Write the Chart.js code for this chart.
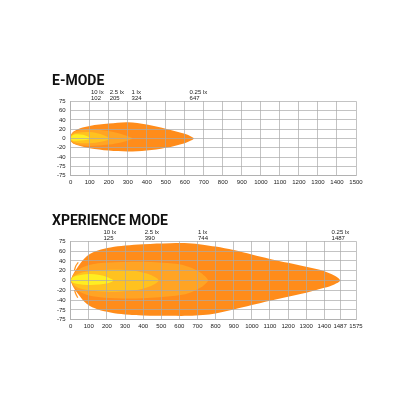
<!DOCTYPE html>
<html>
<head>
<meta charset="utf-8">
<script src="https://cdn.jsdelivr.net/npm/chart.js@4/dist/chart.umd.min.js"></script>
<style>
  html, body { margin: 0; padding: 0; background: #fff; }
  body { width: 416px; height: 416px; position: relative; overflow: hidden; }
  .box { position: absolute; left: 52px; width: 320px; }
  #boxE { top: 66px; height: 125px; }
  #boxX { top: 206px; height: 129px; }
</style>
</head>
<body>
<div class="box" id="boxE"><canvas id="chartE"></canvas></div>
<div class="box" id="boxX"><canvas id="chartX"></canvas></div>
<script>
// y tick labels, top to bottom, as printed on the original
const yTickLabels = ['75', '60', '40', '20', '0', '-20', '-40', '-75', '-75'];
const yTicks = [80, 60, 40, 20, 0, -20, -40, -60, -80];

// E-MODE
const eLux = ['10 lx', '2.5 lx', '1 lx', '0.25 lx'];
const eReach = [102, 205, 324, 647];
const eLabelAt = [107, 205, 320, 625];
const eBand10 = [[0,0],[4,5],[25,9],[65,8],[95,3],[104,0],[95,-2],[65,-4],[25,-5],[4,-3],[0,0]];
const eBand25 = [[0,0],[4,7],[30,12],[100,14],[160,9],[195,3],[205,0],[195,-3],[160,-7],[100,-10],[30,-9],[4,-5],[0,0]];
const eBand1 = [[0,0],[4,9],[30,16],[100,20],[200,16],[270,9],[310,3],[326,0],[310,-3],[270,-8],[200,-13],[100,-16],[30,-13],[4,-7],[0,0]];
const eBand025 = [[0,0],[3,9],[15,15],[50,22],[100,27],[200,32],[300,35],[400,30],[500,21],[600,10],[635,4],[647,0],
                  [635,-4],[600,-10],[500,-20],[400,-26],[300,-28],[200,-26],[100,-21],[50,-16],[15,-11],[3,-7],[0,0]];

// XPERIENCE MODE
const xLux = ['10 lx', '2.5 lx', '1 lx', '0.25 lx'];
const xReach = [125, 390, 744, 1487];
const xLabelAt = [181, 409, 703, 1440];
const xTicks = [0, 100, 200, 300, 400, 500, 600, 700, 800, 900, 1000, 1100, 1200, 1300, 1400, 1487, 1575];
const xBand10 = [[0,0],[10,6],[40,10],[100,13],[160,11],[200,7],[225,3],[235,0],[225,-3],[200,-6],[160,-8],[100,-9],[40,-7],[10,-4],[0,0]];
const xBand25 = [[0,0],[15,8],[50,15],[120,20],[250,22],[350,20],[420,14],[465,7],[485,0],[465,-7],[420,-14],[350,-20],[250,-23],[120,-21],[50,-16],[15,-8],[0,0]];
const xBand1 = [[0,0],[15,12],[50,24],[120,33],[250,37],[400,38],[580,34],[650,28],[710,18],[740,9],[758,0],
                [740,-8],[710,-16],[650,-26],[580,-31],[400,-36],[250,-36],[120,-32],[50,-23],[15,-11],[0,0]];
const xBand025 = [[0,0],[10,10],[40,28],[90,50],[150,61],[220,67],[300,71],[400,74],[550,76],[650,76],[730,73],[800,69],
                  [900,62],[1000,53],[1100,44],[1200,36],[1300,28],[1400,19],[1455,10],[1487,0],[1455,-8],[1400,-15],
                  [1300,-25],[1200,-33],[1100,-41],[1000,-50],[900,-59],[800,-67],[730,-70],[650,-72],[550,-72],
                  [400,-71],[300,-69],[220,-65],[150,-59],[90,-48],[40,-27],[10,-10],[0,0]];
const xArcTop = [[42,37],[29,30],[21,21]];
const xArcBottom = [[21,-19],[28,-27],[39,-35]];

const bandColors = ['#ffee22', '#ffc21f', '#ffa424', '#ff8c1a']; // 10, 2.5, 1, 0.25 lx
const gridColor = 'rgba(170,170,170,0.7)';
const tickFont = { family: 'Liberation Sans', size: 6 };

function toXY(pts) {
    return pts.map(p => ({ x: p[0], y: p[1] }));
}

function band(pts, color) {
    return {
        data: toXY(pts),
        backgroundColor: color,
        borderWidth: 0,
        pointRadius: 0,
        fill: 'shape',
        tension: 0.35
    };
}

function arc(pts) {
    return {
        data: toXY(pts),
        borderColor: '#ff9a2a',
        borderWidth: 1.3,
        pointRadius: 0,
        fill: false,
        tension: 0.4
    };
}

function makeChart(id, title, bands, extra, xMax, ticks, lux, reach, labelAt) {
    // innermost band first so it is drawn on top
    const datasets = extra.map(arc).concat(bands.map((b, i) => band(b, bandColors[i])));
    return new Chart(document.getElementById(id), {
        type: 'line',
        data: { datasets: datasets },
        options: {
            responsive: true,
            maintainAspectRatio: false,
            animation: false,
            layout: { padding: { left: 0, right: 16, top: 0, bottom: 2 } },
            plugins: {
                legend: { display: false },
                tooltip: { enabled: false },
                title: {
                    display: true,
                    text: title,
                    align: 'start',
                    color: '#111',
                    font: { family: 'Roboto', weight: 'bold', size: 14 },
                    padding: { top: 7, bottom: 0 }
                }
            },
            scales: {
                x: {
                    type: 'linear',
                    min: 0,
                    max: xMax,
                    afterBuildTicks: axis => {
                        axis.ticks = ticks.map(v => ({ value: v }));
                    },
                    grid: { color: gridColor, z: 1, drawTicks: false },
                    border: { color: gridColor, z: 1 },
                    ticks: {
                        autoSkip: false, maxRotation: 0, minRotation: 0, padding: 3, color: '#222', font: tickFont,
                        callback: v => String(v)
                    }
                },
                x2: {
                    type: 'linear',
                    position: 'top',
                    min: 0,
                    max: xMax,
                    afterBuildTicks: axis => {
                        axis.ticks = labelAt.map(v => ({ value: v }));
                    },
                    grid: { display: false, drawTicks: false },
                    border: { display: false },
                    ticks: {
                        autoSkip: false, maxRotation: 0, minRotation: 0, align: 'start', padding: 0,
                        color: '#222', font: { family: 'Liberation Sans', size: 6, lineHeight: 0.95 },
                        callback: (v, i) => [lux[i], String(reach[i])]
                    }
                },
                y: {
                    type: 'linear',
                    min: -80,
                    max: 80,
                    afterBuildTicks: axis => {
                        axis.ticks = yTicks.slice().reverse().map(v => ({ value: v }));
                    },
                    ticks: {
                        autoSkip: false, padding: 5, color: '#222', font: tickFont,
                        callback: (v, i, t) => yTickLabels[t.length - 1 - i]
                    },
                    grid: { color: gridColor, z: 1, drawTicks: false },
                    border: { color: gridColor, z: 1 }
                }
            }
        }
    });
}

const eTicks = [];
for (let v = 0; v <= 1500; v += 100) eTicks.push(v);

makeChart('chartE', 'E-MODE', [eBand10, eBand25, eBand1, eBand025], [], 1500, eTicks, eLux, eReach, eLabelAt);
makeChart('chartX', 'XPERIENCE MODE', [xBand10, xBand25, xBand1, xBand025], [xArcTop, xArcBottom], 1575, xTicks, xLux, xReach, xLabelAt);
</script>
</body>
</html>
